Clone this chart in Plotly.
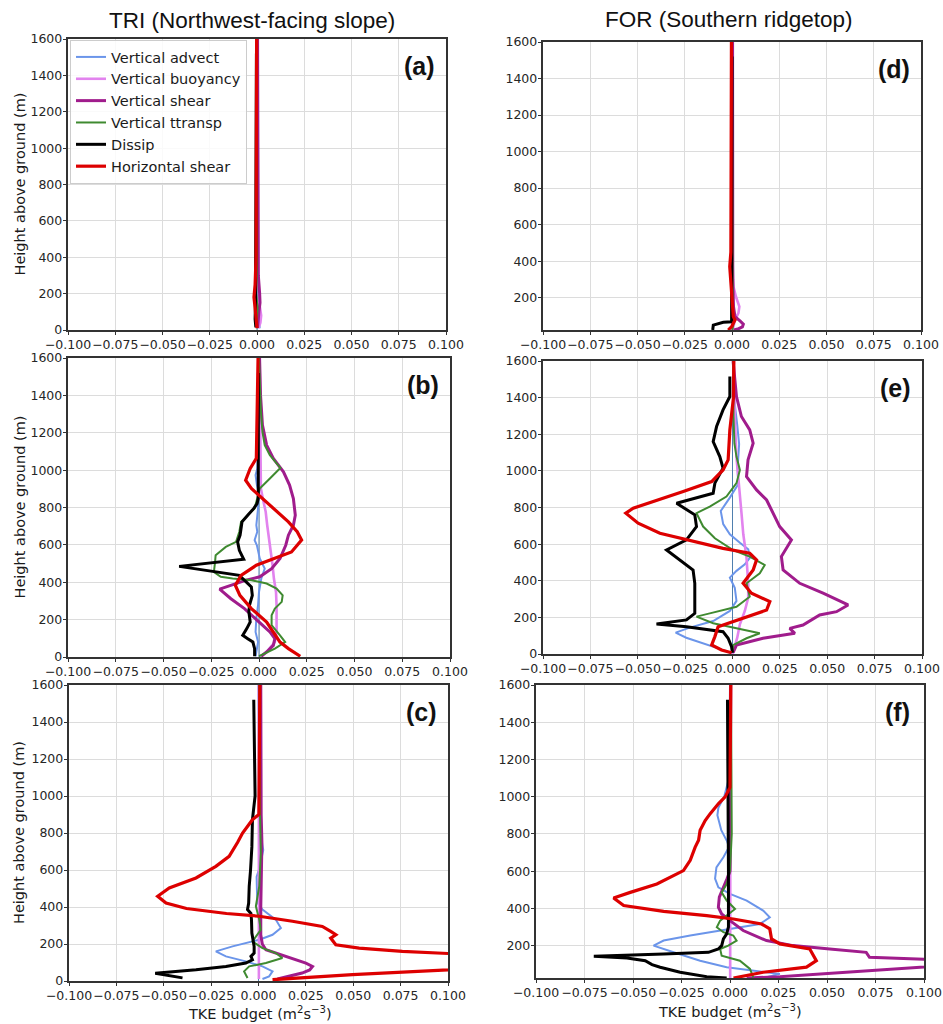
import plotly.graph_objects as go

W, H = 943, 1024

SERIES = ["Vertical advect", "Vertical buoyancy", "Vertical shear",
          "Vertical ttransp", "Dissip", "Horizontal shear"]
COLORS = {
    "Vertical advect": "#6b95ea",
    "Vertical buoyancy": "#e283ee",
    "Vertical shear": "#a01c8c",
    "Vertical ttransp": "#3f8a30",
    "Dissip": "#000000",
    "Horizontal shear": "#dd0000",
}
WIDTHS = {
    "Vertical advect": 2.0,
    "Vertical buoyancy": 2.6,
    "Vertical shear": 3.0,
    "Vertical ttransp": 2.0,
    "Dissip": 3.0,
    "Horizontal shear": 3.2,
}

X_TICKS = [-0.1, -0.075, -0.05, -0.025, 0.0, 0.025, 0.05, 0.075, 0.1]
X_TICK_TEXT = ["\u22120.100", "\u22120.075", "\u22120.050", "\u22120.025", "0.000",
               "0.025", "0.050", "0.075", "0.100"]
Y_TICKS = [0, 200, 400, 600, 800, 1000, 1200, 1400, 1600]
ZERO_X = 0.0

# Profiles: (height above ground [m], TKE budget term [m2 s-3])

# ---- (a) TRI, first period ----
a_advect = [(1600, 0.0), (1000, 0.0), (400, 0.0003), (200, 0.0005), (100, 0.0008), (50, 0.0012), (10, 0.0014)]
a_buoy = [(1600, 0.0002), (800, 0.0003), (300, 0.0006), (150, 0.0012), (80, 0.0022), (40, 0.0018), (10, 0.0008)]
a_vshear = [(1600, 0.0003), (600, 0.0004), (300, 0.0007), (200, 0.0014), (150, 0.0016), (100, 0.0010), (50, 0.0006), (10, 0.0003)]
a_ttransp = [(1600, 0.0), (400, 0.0), (200, -0.0004), (120, 0.0003), (50, -0.0002), (10, 0.0)]
a_dissip = [(1520, -0.0003), (800, -0.0004), (300, -0.0006), (150, -0.0008), (60, -0.0010), (15, -0.0006)]
a_hshear = [(1600, -0.0002), (800, -0.0003), (400, -0.0005), (250, -0.0010), (180, -0.0016), (120, -0.0010), (60, -0.0004), (10, 0.0)]

# ---- (b) TRI, second period ----
b_advect = [(1600, 0.0), (1200, -0.0003), (1009, -0.0009), (973, -0.0018), (920, -0.0011), (884, -0.0002),
            (795, -0.0005), (705, -0.0014), (670, -0.0009), (625, -0.0023), (598, -0.0011), (527, 0.0004),
            (473, 0.0030), (420, 0.0012), (348, 0.0), (277, -0.0005), (205, -0.0014), (134, -0.0018),
            (80, -0.0005), (27, -0.0014), (4, -0.0018)]
b_buoy = [(1600, 0.0003), (1200, 0.0006), (900, 0.0010), (848, 0.0020), (777, 0.0035), (705, 0.0043),
          (634, 0.0053), (562, 0.0062), (491, 0.0071), (420, 0.0078), (348, 0.0089), (277, 0.0092),
          (205, 0.0092), (134, 0.0092), (80, 0.0083), (27, 0.0040), (4, 0.0010)]
b_vshear = [(1600, 0.0003), (1400, 0.0008), (1241, 0.0018), (1134, 0.0040), (1063, 0.0075), (991, 0.0128),
            (920, 0.0160), (848, 0.0180), (759, 0.0190), (705, 0.0180), (652, 0.0154), (598, 0.0140),
            (527, 0.0110), (473, 0.0066), (429, 0.0004), (411, -0.0067), (363, -0.0206), (312, -0.0147),
            (259, -0.0076), (187, 0.0004), (134, 0.0057), (98, 0.0083), (62, 0.0075), (27, 0.0040), (4, 0.0012)]
b_ttransp = [(1600, 0.0), (1400, 0.0005), (1330, 0.0009), (1205, 0.0018), (1134, 0.0030), (1080, 0.0057),
             (1045, 0.0083), (1012, 0.0112), (955, 0.0057), (902, 0.0004), (866, -0.0005), (795, -0.0023),
             (759, -0.0059), (723, -0.0094), (670, -0.0103), (616, -0.0120), (589, -0.0174), (545, -0.0227),
             (509, -0.0230), (455, -0.0236), (429, -0.0200), (420, -0.0138), (411, -0.0040), (393, 0.0040),
             (366, 0.0092), (330, 0.0124), (295, 0.0119), (259, 0.0083), (223, 0.0066), (170, 0.0066),
             (116, 0.0110), (80, 0.0137), (45, 0.0083), (18, 0.0030), (4, 0.0)]
b_dissip = [(1520, -0.0003), (1200, -0.0003), (1000, -0.0003), (848, -0.0004), (821, -0.0010), (795, -0.0027),
            (759, -0.0059), (723, -0.0089), (688, -0.0094), (652, -0.0099), (616, -0.0112), (571, -0.0103),
            (523, -0.0080), (485, -0.0418), (437, -0.0103), (398, -0.0064), (375, -0.0040), (330, -0.0035),
            (277, -0.0050), (241, -0.0053), (187, -0.0046), (152, -0.0064), (116, -0.0085), (98, -0.0059),
            (80, -0.0032), (45, -0.0023), (4, -0.0023)]
b_hshear = [(1600, -0.0005), (1400, -0.0007), (1200, -0.0009), (1063, -0.0014), (1009, -0.0046), (946, -0.0070),
            (902, -0.0040), (866, 0.0), (795, 0.0080), (723, 0.0154), (670, 0.0200), (626, 0.0223),
            (562, 0.0170), (527, 0.0075), (491, -0.0014), (437, -0.0094), (384, -0.0124), (330, -0.0100),
            (259, -0.0040), (187, 0.0040), (134, 0.0075), (80, 0.0110), (45, 0.0154), (4, 0.0216)]

# ---- (c) TRI, third period ----
c_advect = [(1600, 0.0), (1000, 0.0003), (800, 0.0010), (708, 0.0025), (617, 0.0007), (563, -0.0010),
            (480, -0.0008), (422, -0.0005), (386, 0.0021), (332, 0.0091), (286, 0.0118), (250, 0.0074),
            (223, 0.0004), (187, -0.0137), (160, -0.0225), (133, -0.0172), (106, -0.0067), (79, 0.0021),
            (52, 0.0074), (25, 0.0056), (11, 0.0021)]
c_buoy = [(1600, 0.0002), (800, 0.0002), (400, 0.0003), (200, 0.0003), (100, 0.0002), (11, 0.0002)]
c_vshear = [(1600, 0.0012), (1200, 0.0012), (900, 0.0014), (750, 0.0018), (600, 0.0014), (400, 0.0012),
            (250, 0.0012), (200, 0.0020), (169, 0.0039), (133, 0.0144), (97, 0.0250), (79, 0.0285),
            (60, 0.0270), (43, 0.0230), (25, 0.0160), (11, 0.0100)]
c_ttransp = [(1600, 0.0003), (1200, 0.0005), (900, 0.0008), (692, 0.0012), (512, 0.0004), (404, -0.0014),
             (331, 0.0004), (277, 0.0012), (241, -0.0014), (214, -0.0032), (178, 0.0021), (151, 0.0091),
             (124, 0.0126), (97, 0.0039), (79, -0.0049), (52, -0.0076), (16, -0.0058)]
c_dissip = [(1520, -0.0025), (1200, -0.0022), (1000, -0.0018), (872, -0.0032), (725, -0.0035), (600, -0.0042),
            (512, -0.0049), (420, -0.0052), (386, -0.0058), (365, -0.0040), (330, -0.0037), (259, -0.0035),
            (187, -0.0023), (151, -0.0023), (133, -0.0040), (115, -0.0032), (97, -0.0067), (79, -0.0172),
            (61, -0.0330), (42, -0.0545), (30, -0.0471), (17, -0.0401)]
c_hshear = [(1600, 0.0007), (1200, 0.0005), (900, 0.0002), (872, -0.0032), (800, -0.0084), (750, -0.0110),
            (674, -0.0155), (620, -0.0225), (557, -0.0330), (503, -0.0471), (458, -0.0532), (422, -0.0488),
            (392, -0.0380), (365, -0.0169), (350, 0.0004), (323, 0.0179), (295, 0.0337), (268, 0.0381),
            (250, 0.0408), (232, 0.0381), (196, 0.0408), (178, 0.0531), (160, 0.0759), (130, 0.1400),
            (85, 0.1500), (34, 0.0496), (7, 0.0074)]

# ---- (d) FOR, first period ----
d_advect = [(1600, 0.0002), (400, 0.0003), (100, 0.0004), (23, 0.0002)]
d_buoy = [(1600, 0.0002), (800, 0.0002), (400, 0.0003), (260, 0.0008), (205, 0.0021), (151, 0.0039),
          (115, 0.0034), (78, 0.0016), (50, 0.0008), (23, 0.0003)]
d_vshear = [(1600, 0.0003), (800, 0.0003), (300, 0.0004), (150, 0.0008), (96, 0.0016), (70, 0.0045),
            (55, 0.0060), (40, 0.0055), (30, 0.0035), (23, 0.0010)]
d_ttransp = [(1600, 0.0), (400, 0.0), (100, 0.0003), (60, 0.0008), (23, 0.0002)]
d_dissip = [(1520, 0.0), (1000, 0.0), (400, 0.0), (100, -0.0002), (68, -0.0002), (65, -0.0046),
            (50, -0.0099), (23, -0.0102)]
d_hshear = [(1600, -0.0003), (1000, -0.0003), (600, -0.0004), (450, -0.0006), (370, -0.0012), (300, -0.0008),
            (200, -0.0002), (130, 0.0002), (96, 0.0007), (78, 0.0016), (60, 0.0008), (42, -0.0002), (23, -0.0020)]

# ---- (e) FOR, second period ----
e_advect = [(1600, 0.0005), (1400, 0.0008), (1250, 0.0025), (1146, 0.0035), (1018, 0.0027), (927, 0.0030),
            (854, -0.0014), (781, -0.0062), (709, -0.0049), (654, -0.0014), (608, 0.0039), (572, 0.0083),
            (526, 0.0092), (490, 0.0065), (454, 0.0021), (417, -0.0014), (362, 0.0012), (290, 0.0021),
            (235, -0.0014), (180, -0.0102), (144, -0.0226), (117, -0.0300), (89, -0.0244), (53, -0.0138),
            (16, -0.0032), (0, 0.0)]
e_buoy = [(1600, 0.0007), (1300, 0.0012), (1073, 0.0021), (891, 0.0039), (763, 0.0048), (654, 0.0057),
          (526, 0.0074), (381, 0.0083), (308, 0.0083), (235, 0.0065), (162, 0.0039), (89, 0.0025),
          (35, 0.0012), (0, 0.0)]
e_vshear = [(1600, 0.0003), (1406, 0.0021), (1297, 0.0047), (1224, 0.0091), (1151, 0.0109), (1060, 0.0082),
            (969, 0.0074), (896, 0.0127), (841, 0.0180), (769, 0.0214), (696, 0.0249), (623, 0.0311),
            (532, 0.0258), (459, 0.0267), (386, 0.0355), (332, 0.0478), (268, 0.0610), (231, 0.0549),
            (213, 0.0460), (158, 0.0372), (140, 0.0302), (113, 0.0329), (86, 0.0161), (49, 0.0021), (7, 0.0003)]
e_ttransp = [(1600, 0.0005), (1300, 0.0005), (1150, 0.0010), (1078, 0.0021), (1005, 0.0039), (933, 0.0021),
             (860, -0.0032), (805, -0.0120), (769, -0.0190), (696, -0.0155), (632, -0.0093), (568, 0.0003),
             (532, 0.0091), (486, 0.0170), (441, 0.0144), (386, 0.0074), (313, 0.0091), (258, 0.0021),
             (222, -0.0120), (204, -0.0190), (168, -0.0102), (140, 0.0021), (113, 0.0144), (86, 0.0074),
             (49, 0.0003), (7, 0.0)]
e_dissip = [(1515, -0.0014), (1406, -0.0014), (1333, -0.0050), (1242, -0.0084), (1160, -0.0102), (1078, -0.0067),
            (1015, -0.0050), (933, -0.0093), (878, -0.0102), (823, -0.0295), (760, -0.0199), (696, -0.0190),
            (623, -0.0243), (568, -0.0348), (459, -0.0208), (386, -0.0199), (222, -0.0199), (186, -0.0243),
            (164, -0.0401), (149, -0.0243), (122, -0.0050), (86, -0.0023), (40, -0.0005), (7, 0.0)]
e_hshear = [(1600, 0.0007), (1400, 0.0005), (1224, -0.0014), (1060, -0.0023), (1005, -0.0050), (942, -0.0110),
            (887, -0.0260), (841, -0.0400), (796, -0.0524), (769, -0.0563), (714, -0.0498), (659, -0.0383),
            (623, -0.0243), (577, -0.0050), (550, 0.0091), (514, 0.0127), (459, 0.0109), (386, 0.0056),
            (332, 0.0100), (286, 0.0197), (240, 0.0180), (186, 0.0021), (149, -0.0076), (95, -0.0093),
            (49, -0.0110), (22, -0.0058), (7, -0.0005)]

# ---- (f) FOR, third period ----
f_advect = [(1600, 0.0), (1200, -0.0003), (1100, -0.0005), (1000, -0.0030), (940, -0.0060), (900, -0.0065),
            (820, -0.0045), (760, -0.0015), (730, -0.0005), (675, -0.0034), (620, -0.0070), (560, -0.0077),
            (513, -0.0060), (478, 0.0), (442, 0.0086), (388, 0.0171), (352, 0.0205), (316, 0.0154),
            (290, 0.0), (254, -0.0205), (227, -0.0342), (200, -0.0394), (164, -0.0291), (119, -0.0154),
            (84, -0.0017), (66, 0.0120), (48, 0.0257), (30, 0.0188)]
f_buoy = [(1600, 0.0002), (1000, 0.0002), (500, 0.0002), (200, 0.0001), (26, 0.0001)]
f_vshear = [(1600, 0.0004), (1200, 0.0003), (800, 0.0002), (600, 0.0), (560, -0.0015), (513, -0.0034),
            (460, -0.0055), (406, -0.0060), (370, -0.0043), (334, 0.0), (281, 0.0068), (227, 0.0188),
            (200, 0.0325), (182, 0.0514), (164, 0.0702), (137, 0.0719), (118, 0.1400), (112, 0.1400),
            (57, 0.0599), (33, 0.0257), (26, 0.0086)]
f_ttransp = [(1600, 0.0005), (1200, 0.0008), (1000, 0.0010), (800, 0.0009), (603, 0.0), (531, -0.0017),
             (486, -0.0043), (442, -0.0017), (397, 0.0026), (370, -0.0009), (334, -0.0051), (299, -0.0068),
             (272, -0.0034), (254, 0.0017), (227, 0.0034), (200, -0.0009), (182, -0.0051), (146, -0.0043),
             (119, 0.0051), (75, 0.0103), (30, 0.0120)]
f_dissip = [(1521, -0.0013), (1200, -0.0010), (1000, -0.0008), (600, -0.0008), (300, -0.0008), (263, -0.0017),
            (236, -0.0034), (200, -0.0043), (182, -0.0060), (164, -0.0111), (155, -0.0342), (143, -0.0702),
            (134, -0.0531), (119, -0.0437), (98, -0.0402), (84, -0.0360), (57, -0.0257), (33, -0.0120),
            (26, -0.0017)]
f_hshear = [(1600, 0.0004), (1200, 0.0003), (1050, 0.0), (999, -0.0025), (963, -0.0059), (909, -0.0102),
            (872, -0.0128), (820, -0.0154), (766, -0.0162), (728, -0.0180), (658, -0.0205), (603, -0.0240),
            (531, -0.0377), (486, -0.0514), (456, -0.0600), (415, -0.0548), (384, -0.0342), (361, -0.0120),
            (343, 0.0017), (316, 0.0163), (290, 0.0205), (236, 0.0214), (209, 0.0257), (182, 0.0411),
            (119, 0.0445), (84, 0.0394), (57, 0.0171), (26, 0.0018)]

# Panel layout: label, profiles, pixel box (left, right, top, bottom), y-axis range
PANELS = [
    ("(a)", [a_advect, a_buoy, a_vshear, a_ttransp, a_dissip, a_hshear], (68, 446, 39, 330), (0, 1600)),
    ("(d)", [d_advect, d_buoy, d_vshear, d_ttransp, d_dissip, d_hshear], (543, 921, 42, 330), (23, 1600)),
    ("(b)", [b_advect, b_buoy, b_vshear, b_ttransp, b_dissip, b_hshear], (68, 450, 358, 657), (0, 1600)),
    ("(e)", [e_advect, e_buoy, e_vshear, e_ttransp, e_dissip, e_hshear], (543, 922, 361, 654), (0, 1600)),
    ("(c)", [c_advect, c_buoy, c_vshear, c_ttransp, c_dissip, c_hshear], (69, 448, 685, 981), (0, 1600)),
    ("(f)", [f_advect, f_buoy, f_vshear, f_ttransp, f_dissip, f_hshear], (536, 924, 685, 978), (26, 1600)),
]


def px(x):
    return x / W


def py(y):
    return 1 - y / H


fig = go.Figure()
layout = {}
annotations = []
tick_font = dict(family="DejaVu Sans", size=12.5, color="#262626")

for i, (label, profiles, box, yr) in enumerate(PANELS, start=1):
    xa = "x" if i == 1 else f"x{i}"
    ya = "y" if i == 1 else f"y{i}"
    left, right, top, bottom = box
    common = dict(showline=True, mirror=True, linecolor="#333333", linewidth=1.5,
                  showgrid=True, gridcolor="#dcdcdc", gridwidth=1, zeroline=False,
                  ticks="outside", ticklen=3.5, tickwidth=1.2, tickcolor="#333333",
                  tickfont=tick_font, tickangle=0, automargin=False)
    layout["xaxis" if i == 1 else f"xaxis{i}"] = dict(
        common, domain=[px(left), px(right)], anchor=ya, range=[-0.1, 0.1],
        tickmode="array", tickvals=X_TICKS, ticktext=X_TICK_TEXT, ticklabelstandoff=-1)
    layout["yaxis" if i == 1 else f"yaxis{i}"] = dict(
        common, domain=[py(bottom), py(top)], anchor=xa, range=list(yr),
        tickmode="array", tickvals=Y_TICKS, ticklabelstandoff=-2)

    # thin zero reference line under the profiles
    fig.add_trace(go.Scatter(x=[ZERO_X, ZERO_X], y=list(yr), mode="lines",
                             line=dict(color="#4f7fae", width=1), xaxis=xa, yaxis=ya,
                             showlegend=False, hoverinfo="skip"))

    for name, prof in zip(SERIES, profiles):
        fig.add_trace(go.Scatter(
            x=[v for _, v in prof], y=[z for z, _ in prof], mode="lines", name=name,
            line=dict(color=COLORS[name], width=WIDTHS[name]),
            xaxis=xa, yaxis=ya, showlegend=(i == 1), hoverinfo="skip"))

    annotations.append(dict(text=f"<b>{label}</b>", x=px(right - 27), y=py(top + 27),
                            xref="paper", yref="paper", xanchor="center", yanchor="middle",
                            showarrow=False, font=dict(family="Liberation Sans", size=25, color="#111111")))

# Column titles
annotations.append(dict(text="TRI (Northwest-facing slope)", x=px(252), y=py(20), xref="paper", yref="paper",
                        showarrow=False, xanchor="center", yanchor="middle",
                        font=dict(family="Liberation Sans", size=22.5, color="#111111")))
annotations.append(dict(text="FOR (Southern ridgetop)", x=px(729), y=py(19), xref="paper", yref="paper",
                        showarrow=False, xanchor="center", yanchor="middle",
                        font=dict(family="Liberation Sans", size=22.5, color="#111111")))

# Axis titles
label_font = dict(family="DejaVu Sans", size=14.5, color="#1a1a1a")
for yc in (184.5, 507.5, 833):
    annotations.append(dict(text="Height above ground (m)", x=px(19), y=py(yc), xref="paper", yref="paper",
                            showarrow=False, textangle=-90, xanchor="center", yanchor="middle", font=label_font))
for xc, yc in ((260, 1013), (730, 1011)):
    annotations.append(dict(text="TKE budget (m<sup>2</sup>s<sup>\u22123</sup>)", x=px(xc), y=py(yc),
                            xref="paper", yref="paper", showarrow=False, xanchor="center", yanchor="middle",
                            font=label_font))

fig.update_layout(
    width=W, height=H, margin=dict(l=0, r=0, t=0, b=0, autoexpand=False),
    paper_bgcolor="white", plot_bgcolor="white",
    annotations=annotations,
    legend=dict(x=px(70), y=py(40), xanchor="left", yanchor="top",
                bgcolor="rgba(255,255,255,0.85)", bordercolor="#cccccc", borderwidth=1,
                font=dict(family="DejaVu Sans", size=14.5, color="#1a1a1a"), tracegroupgap=0),
    **layout,
)

fig.write_html("out.html")
